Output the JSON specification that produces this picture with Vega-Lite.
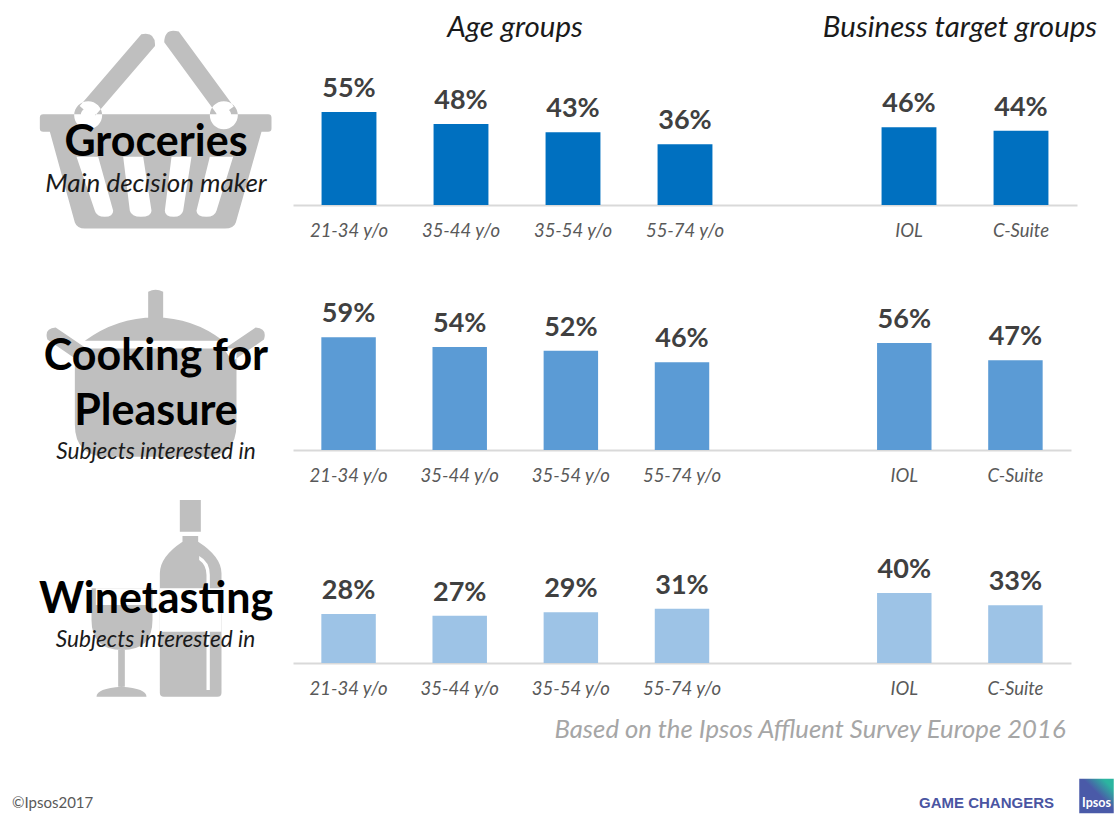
{
"$schema":"https://vega.github.io/schema/vega-lite/v6.json",
"padding":0,"spacing":0,"background":"white",
"config":{"view":{"stroke":null},"font":"Lato","axis":{"grid":false}},
"datasets":{
"one":[{"k":"x"}],
"r1":[{"group":"21-34 y/o","value":0.55},{"group":"35-44 y/o","value":0.48},{"group":"35-54 y/o","value":0.43},{"group":"55-74 y/o","value":0.36},{"group":"IOL","value":0.46},{"group":"C-Suite","value":0.44}],
"r2":[{"group":"21-34 y/o","value":0.59},{"group":"35-44 y/o","value":0.54},{"group":"35-54 y/o","value":0.52},{"group":"55-74 y/o","value":0.46},{"group":"IOL","value":0.56},{"group":"C-Suite","value":0.47}],
"r3":[{"group":"21-34 y/o","value":0.28},{"group":"35-44 y/o","value":0.27},{"group":"35-54 y/o","value":0.29},{"group":"55-74 y/o","value":0.31},{"group":"IOL","value":0.40},{"group":"C-Suite","value":0.33}]
},
"hconcat":[
{"spacing":0,"bounds":"flush","vconcat":[
 {"width":293,"height":245,"layer":[
  {"data":{"name":"one"},"mark":{"type":"point","filled":true,"opacity":1,"fill":"#bfbfbf","stroke":null,"size":0.4444,"shape":"M-310-25H365Q375-25 375-15V18Q375 28 365 28H-310Q-320 28-320 18V-15Q-320-25-310-25ZM-290 28L-215 300Q-208 318-185 318H235Q262 318 268 300L345 28ZM-15.5-264.6Q27.8-273.5 25.5-229.4L-159.5-14.4L-200.5-49.6ZM53.2-241Q54.3-285.2 96.8-273L261.8-48L218.2-16ZM-217-22a42 42 0 1 0 84 0a42 42 0 1 0-84 0ZM190-22a42 42 0 1 0 84 0a42 42 0 1 0-84 0Z"}},
  {"data":{"name":"one"},"mark":{"type":"point","filled":true,"opacity":1,"fill":"white","stroke":null,"size":0.4444,"shape":"M-197-22a22 22 0 1 0 44 0a22 22 0 1 0-44 0ZM210-22a22 22 0 1 0 44 0a22 22 0 1 0-44 0ZM-210 103H-145L-100 265Q-100 283-125 283Q-150 283-155 265ZM-70 103H-10L15 265Q15 283-17 283Q-45 283-50 265ZM75 103H135L110 265Q105 283 82 283Q55 283 55 265ZM190 103H260L210 265Q205 283 180 283Q150 283 150 265Z"}},
  {"data":{"values":[{"label":"Groceries"}]},"mark":{"type":"text","font":"Lato","fontWeight":"bold","fontSize":43,"color":"#000000","dx":9.5},"encoding":{"text":{"field":"label"},"y":{"field":"label","type":"nominal","axis":null,"scale":{"type":"point","padding":0,"domain":["Groceries","Main decision maker"],"range":[143,184]}}}},
  {"data":{"values":[{"label":"Main decision maker"}]},"mark":{"type":"text","font":"Lato","fontStyle":"italic","fontSize":26,"color":"#1a1a1a","dx":9.5},"encoding":{"text":{"field":"label"},"y":{"field":"label","type":"nominal","axis":null,"scale":{"type":"point","padding":0,"domain":["Groceries","Main decision maker"],"range":[143,184]}}}}
 ]},
 {"width":293,"height":245,"layer":[
  {"data":{"name":"one"},"mark":{"type":"point","filled":true,"opacity":1,"fill":"#bfbfbf","stroke":null,"size":0.4444,"shape":"M5-227Q27-240 50-227V-147H5ZM-185-80Q-90-150 25-150Q140-150 230-80ZM-215-57H270V170Q270 268 170 268H-115Q-215 268-215 170ZM-297.4-83.8Q-308-118-272.6-120.2L-177.6-55.2L-202.4-18.8ZM352.4-83.8Q363-118 327.6-120.2L232.6-55.2L257.4-18.8Z"}},
  {"data":{"values":[{"label":"Cooking for"},{"label":"Pleasure"}]},"mark":{"type":"text","font":"Lato","fontWeight":"bold","fontSize":43,"color":"#000000","dx":9.5},"encoding":{"text":{"field":"label"},"y":{"field":"label","type":"nominal","axis":null,"scale":{"type":"point","padding":0,"domain":["Cooking for","Pleasure","Subjects interested in"],"range":[112,222]}}}},
  {"data":{"values":[{"label":"Subjects interested in"}]},"mark":{"type":"text","font":"Lato","fontStyle":"italic","fontSize":22.6,"color":"#1a1a1a","dx":9.5,"dy":-15},"encoding":{"text":{"field":"label"},"y":{"field":"label","type":"nominal","axis":null,"scale":{"type":"point","padding":0,"domain":["Cooking for","Pleasure","Subjects interested in"],"range":[112,222]}}}}
 ]},
 {"width":293,"height":220,"layer":[
  {"data":{"name":"one"},"mark":{"type":"point","filled":true,"opacity":1,"fill":"#bfbfbf","stroke":null,"size":0.4444,"shape":"M100-300H163V-205H100ZM108-192H155V-175Q225-130 225-80V278Q225 290 213 290H52Q40 290 40 278V-80Q40-130 108-175ZM-165-35H18V60Q18 150-73 150Q-165 150-165 60ZM-85 150H-65V260H-85ZM-150 290Q-150 265-75 260Q0 265 0 290Z"}},
  {"data":{"name":"one"},"mark":{"type":"point","filled":true,"opacity":1,"fill":"white","stroke":null,"size":0.4444,"shape":"M40-35H225V95H40ZM158-132Q190-115 190-75V270H180V-75Q180-105 158-120ZM-152-35H5V15H-152Z"}},
  {"data":{"values":[{"label":"Winetasting"}]},"mark":{"type":"text","font":"Lato","fontWeight":"bold","fontSize":43,"color":"#000000","dx":9.5},"encoding":{"text":{"field":"label"},"y":{"field":"label","type":"nominal","axis":null,"scale":{"type":"point","padding":0,"domain":["Winetasting","Subjects interested in"],"range":[110,150]}}}},
  {"data":{"values":[{"label":"Subjects interested in"}]},"mark":{"type":"text","font":"Lato","fontStyle":"italic","fontSize":22.6,"color":"#1a1a1a","dx":9},"encoding":{"text":{"field":"label"},"y":{"field":"label","type":"nominal","axis":null,"scale":{"type":"point","padding":0,"domain":["Winetasting","Subjects interested in"],"range":[110,150]}}}}
 ]},
 {"width":293,"height":113,"data":{"values":[{"label":"©Ipsos2017"}]},"mark":{"type":"text","font":"Lato","fontSize":15,"color":"#595959","align":"left"},"encoding":{"text":{"field":"label"},"x":{"field":"label","type":"nominal","axis":null,"scale":{"type":"point","padding":0,"range":[12,12]}},"y":{"field":"label","type":"nominal","axis":null,"scale":{"type":"point","padding":0,"range":[93,93]}}}}
]},
{"spacing":0,"bounds":"flush","vconcat":[
 {"width":822,"height":60,"data":{"values":[{"label":"Age groups"},{"label":"Business target groups"}]},"mark":{"type":"text","font":"Lato","fontStyle":"italic","fontSize":29.5,"color":"#1a1a1a"},"encoding":{"text":{"field":"label"},"x":{"field":"label","type":"nominal","axis":null,"scale":{"type":"point","padding":0,"domain":["Age groups","Business target groups"],"range":[222,667]}},"y":{"field":"label","type":"nominal","axis":null,"scale":{"type":"point","padding":0,"range":[28,28]}}}},
 {"width":784,"height":145,"data":{"name":"r1"},
  "encoding":{"x":{"field":"group","type":"nominal","title":null,"scale":{"type":"band","domain":["21-34 y/o","35-44 y/o","35-54 y/o","55-74 y/o"," ","IOL","C-Suite"],"paddingInner":0.51,"paddingOuter":0.255},"sort":null,"axis":{"labelAngle":0,"ticks":false,"labelPadding":16,"labelFontSize":18.5,"labelFontStyle":"italic","labelFont":"Lato","labelColor":"#595959","domainColor":"#d9d9d9","domainWidth":2}},"y":{"field":"value","type":"quantitative","axis":null,"scale":{"domain":[0,0.858],"nice":false}}},
  "layer":[{"mark":{"type":"bar","color":"#0070c0"}},
  {"mark":{"type":"text","font":"Lato","fontWeight":"bold","fontSize":27,"color":"#404040","baseline":"bottom","dy":-9},"encoding":{"text":{"field":"value","type":"quantitative","format":".0%"}}}]},
 {"width":778,"height":245,"data":{"name":"r2"},
  "encoding":{"x":{"field":"group","type":"nominal","title":null,"scale":{"type":"band","domain":["21-34 y/o","35-44 y/o","35-54 y/o","55-74 y/o"," ","IOL","C-Suite"],"paddingInner":0.51,"paddingOuter":0.255},"sort":null,"axis":{"labelAngle":0,"ticks":false,"labelPadding":16,"labelFontSize":18.5,"labelFontStyle":"italic","labelFont":"Lato","labelColor":"#595959","domainColor":"#d9d9d9","domainWidth":2}},"y":{"field":"value","type":"quantitative","axis":null,"scale":{"domain":[0,1.283],"nice":false}}},
  "layer":[{"mark":{"type":"bar","color":"#5b9bd5"}},
  {"mark":{"type":"text","font":"Lato","fontWeight":"bold","fontSize":27,"color":"#404040","baseline":"bottom","dy":-9},"encoding":{"text":{"field":"value","type":"quantitative","format":".0%"}}}]},
 {"width":778,"height":213,"data":{"name":"r3"},
  "encoding":{"x":{"field":"group","type":"nominal","title":null,"scale":{"type":"band","domain":["21-34 y/o","35-44 y/o","35-54 y/o","55-74 y/o"," ","IOL","C-Suite"],"paddingInner":0.51,"paddingOuter":0.255},"sort":null,"axis":{"labelAngle":0,"ticks":false,"labelPadding":16,"labelFontSize":18.5,"labelFontStyle":"italic","labelFont":"Lato","labelColor":"#595959","domainColor":"#d9d9d9","domainWidth":2}},"y":{"field":"value","type":"quantitative","axis":null,"scale":{"domain":[0,1.217],"nice":false}}},
  "layer":[{"mark":{"type":"bar","color":"#9dc3e6"}},
  {"mark":{"type":"text","font":"Lato","fontWeight":"bold","fontSize":27,"color":"#404040","baseline":"bottom","dy":-9},"encoding":{"text":{"field":"value","type":"quantitative","format":".0%"}}}]},
 {"width":822,"height":97,"data":{"values":[{"label":"Based on the Ipsos Affluent Survey Europe 2016"}]},"mark":{"type":"text","font":"Lato","fontStyle":"italic","fontSize":25.7,"color":"#a6a6a6"},"encoding":{"text":{"field":"label"},"x":{"field":"label","type":"nominal","axis":null,"scale":{"type":"point","padding":0,"range":[517,517]}},"y":{"field":"label","type":"nominal","axis":null,"scale":{"type":"point","padding":0,"range":[67,67]}}}},
 {"width":822,"height":63,"layer":[
  {"data":{"values":[{"label":"Ipsos"}]},"mark":{"type":"point","shape":"square","filled":true,"opacity":1,"size":1190,"stroke":null,"fill":{"gradient":"linear","x1":0,"y1":1,"x2":1,"y2":0,"stops":[{"offset":0.55,"color":"#4a5aa8"},{"offset":0.85,"color":"#2bb5a0"}]}},"encoding":{"x":{"field":"label","type":"nominal","axis":null,"scale":{"type":"point","padding":0,"domain":["GAME CHANGERS","Ipsos"],"range":[693.5,803.5]}},"y":{"field":"label","type":"nominal","axis":null,"scale":{"type":"point","padding":0,"domain":["Ipsos","GAME CHANGERS"],"range":[36,42.5]}}}},
  {"data":{"values":[{"label":"GAME CHANGERS"}]},"mark":{"type":"text","font":"Liberation Sans","fontWeight":"bold","fontSize":15,"color":"#4a55a2"},"encoding":{"text":{"field":"label"},"x":{"field":"label","type":"nominal","axis":null,"scale":{"type":"point","padding":0,"domain":["GAME CHANGERS","Ipsos"],"range":[693.5,803.5]}},"y":{"field":"label","type":"nominal","axis":null,"scale":{"type":"point","padding":0,"domain":["Ipsos","GAME CHANGERS"],"range":[36,42.5]}}}},
  {"data":{"values":[{"label":"Ipsos"}]},"mark":{"type":"text","font":"Lato","fontWeight":"bold","fontSize":12.5,"color":"white","dy":7},"encoding":{"text":{"field":"label"},"x":{"field":"label","type":"nominal","axis":null,"scale":{"type":"point","padding":0,"domain":["GAME CHANGERS","Ipsos"],"range":[693.5,803.5]}},"y":{"field":"label","type":"nominal","axis":null,"scale":{"type":"point","padding":0,"domain":["Ipsos","GAME CHANGERS"],"range":[36,42.5]}}}}
 ]}
]}
]}
